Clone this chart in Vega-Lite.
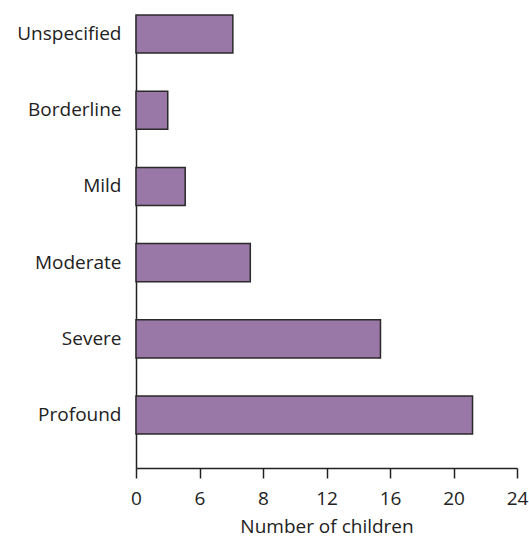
{
  "$schema": "https://vega.github.io/schema/vega-lite/v6.json",
  "autosize": {"type": "none"},
  "padding": {"left": 136, "top": 15, "right": 12, "bottom": 71},
  "width": 381,
  "height": 453,
  "background": "white",
  "data": {"values": [
    {"category": "Unspecified", "children": 6.1},
    {"category": "Borderline", "children": 2.0},
    {"category": "Mild", "children": 3.1},
    {"category": "Moderate", "children": 7.2},
    {"category": "Severe", "children": 15.4},
    {"category": "Profound", "children": 21.2}
  ]},
  "mark": {"type": "bar", "fill": "#9977a6", "stroke": "#2a2a2a", "strokeWidth": 1.5},
  "encoding": {
    "y": {
      "field": "category", "type": "nominal", "sort": null,
      "scale": {"paddingInner": 0.5, "paddingOuter": 0.2225, "align": 0},
      "axis": {"title": null, "ticks": false, "labelPadding": 15, "labelFontSize": 19, "labelFont": "Open Sans", "labelColor": "#222", "domainColor": "#222", "domainWidth": 1.5}
    },
    "x": {
      "field": "children", "type": "quantitative",
      "scale": {"domain": [0, 24], "nice": false},
      "axis": {
        "title": "Number of children", "values": [0, 4, 8, 12, 16, 20, 24],
        "labelExpr": "datum.value == 4 ? '6' : datum.label",
        "labelFlush": false, "labelOverlap": false,
        "grid": false, "tickSize": 10, "tickColor": "#222", "tickWidth": 1.5,
        "domainColor": "#222", "domainWidth": 1.5,
        "labelPadding": 11, "labelFontSize": 19, "labelFont": "Open Sans", "labelColor": "#222",
        "titleFontSize": 19, "titleFont": "Open Sans", "titleFontWeight": "normal", "titleColor": "#222", "titlePadding": 9
      }
    }
  },
  "config": {"view": {"stroke": null}}
}
